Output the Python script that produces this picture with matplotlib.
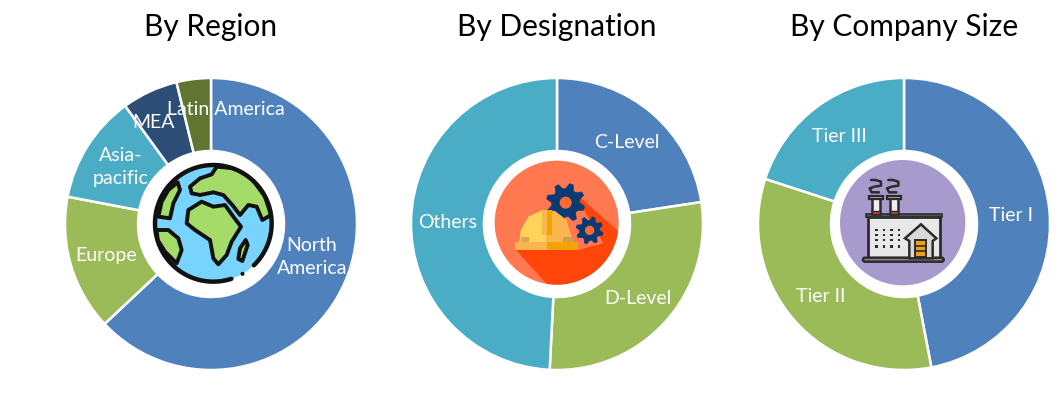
import numpy as np
import matplotlib
matplotlib.use("Agg")
import matplotlib.pyplot as plt
from matplotlib.patches import Circle, Polygon, Rectangle, FancyBboxPatch

plt.rcParams['font.family'] = ['Lato', 'DejaVu Sans']

W, H = 1061, 417

# ---- data ----
region_names = ["North America", "Europe", "Asia-pacific", "MEA", "Latin America"]
region_values = [63.0, 15.0, 12.0, 6.2, 3.8]
region_colors = ["#4F81BD", "#9BBB59", "#4BACC6", "#2C4D75", "#5F7530"]

designation_names = ["C-Level", "D-Level", "Others"]
designation_values = [22.6, 28.2, 49.2]
designation_colors = ["#4F81BD", "#9BBB59", "#4BACC6"]

size_names = ["Tier I", "Tier II", "Tier III"]
size_values = [47.0, 33.0, 20.0]
size_colors = ["#4F81BD", "#9BBB59", "#4BACC6"]

titles = ["By Region", "By Designation", "By Company Size"]

fig = plt.figure(figsize=(W / 100, H / 100), dpi=100, facecolor="white")


def donut(cx, cy, r, rin, values, colors):
    m = r + 2
    ax = fig.add_axes([(cx - m) / W, 1 - (cy + m) / H, 2 * m / W, 2 * m / H])
    ax.pie(values, colors=colors, startangle=90, counterclock=False, radius=r,
           wedgeprops=dict(width=r - rin, edgecolor="white", linewidth=1.8))
    ax.set_xlim(-m, m)
    ax.set_ylim(-m, m)
    ax.set_aspect("equal")
    ax.axis("off")


donut(211, 224, 146, 73, region_values, region_colors)
donut(557, 224, 146, 73, designation_values, designation_colors)
donut(904, 224, 146, 73, size_values, size_colors)

ov = fig.add_axes([0, 0, 1, 1], zorder=5)
ov.set_xlim(0, W)
ov.set_ylim(H, 0)
ov.axis("off")
ov.patch.set_alpha(0)


def Z(pts, ox):
    """Icon outline points, given in a 3x view of a 135 px box at (ox,155)."""
    return [(ox + x / 3, 155 + y / 3) for x, y in pts]


# ---- globe icon ----
ox = 145
KL = "#111111"
LAND = "#A5DC69"
SEA = "#79D4FD"
gc = (ox + 205 / 3, 155 + 205 / 3)
ov.add_patch(Circle(gc, 175 / 3, fc=SEA, ec="none", zorder=1))
clip = Circle(gc, 175 / 3, transform=ov.transData)
lands = [
    [(215, 35), (270, 40), (320, 70), (360, 125), (378, 180), (352, 195), (335, 155), (310, 150),
     (285, 180), (262, 150), (235, 120), (205, 112), (165, 120), (140, 115), (135, 95), (165, 70), (200, 58)],
    [(98, 82), (105, 105), (85, 145), (75, 190), (40, 185), (50, 140), (70, 105)],
    [(35, 225), (70, 225), (100, 250), (110, 285), (95, 325), (60, 290), (38, 255)],
    [(130, 165), (170, 140), (205, 155), (240, 150), (265, 185), (288, 215), (260, 260), (245, 300),
     (220, 328), (205, 310), (195, 255), (150, 225), (125, 205)],
    [(302, 255), (308, 270), (292, 318), (280, 312), (285, 280)],
]
for land in lands:
    p = Polygon(Z(land, ox), closed=True, fc=LAND, ec=KL, lw=2.8, joinstyle="round", zorder=2)
    ov.add_patch(p)
    p.set_clip_path(clip)
# the ring has a small gap and a dot at lower right
t = np.radians(np.linspace(72, 406, 300))
ov.plot(gc[0] + 175 / 3 * np.cos(t), gc[1] + 175 / 3 * np.sin(t), color=KL, lw=3.2, zorder=3,
        solid_capstyle="round")
ov.add_patch(Polygon([(gc[0] + 175 / 3 * np.cos(a) + dx, gc[1] + 175 / 3 * np.sin(a) + dy)
                      for a in np.radians([47, 71]) for dx, dy in [(0, 0)]] +
                     [(gc[0] + 160 / 3 * np.cos(a), gc[1] + 160 / 3 * np.sin(a)) for a in np.radians([71, 47])],
                     closed=True, fc=SEA, ec="none", zorder=2.5))
ov.add_patch(Circle((gc[0] + 175 / 3 * np.cos(np.radians(60)), gc[1] + 175 / 3 * np.sin(np.radians(60))),
                    2.0, fc=KL, ec="none", zorder=3))

# ---- helmet and gears icon ----
ox = 490
c2 = (ox + 200 / 3, 155 + 203 / 3)
ov.add_patch(Circle(c2, 186 / 3, fc="#FF7850", ec="none", zorder=1))
clip2 = Circle(c2, 186 / 3, transform=ov.transData)
sh = Polygon(Z([(78, 285), (265, 285), (340, 265), (285, 170), (240, 100), (420, 260), (420, 420), (200, 420)], ox),
             closed=True, fc="#FF450A", ec="none", zorder=2)
ov.add_patch(sh)
sh.set_clip_path(clip2)


def gear(cx, cy, ro, ri, hole, n, zorder):
    a = np.linspace(0, 2 * np.pi, n * 4, endpoint=False) + 0.2
    rad = np.tile([ro, ro, ri, ri], n)
    x = ox + (cx + rad * np.cos(a)) / 3
    y = 155 + (cy + rad * np.sin(a)) / 3
    ov.add_patch(Polygon(np.column_stack([x, y]), closed=True, fc="#0B3A75", ec="#0B3A75", lw=0.5, zorder=zorder))
    ov.add_patch(Circle((ox + cx / 3, 155 + cy / 3), hole / 3, fc="#FF6A33", ec="none", zorder=zorder + 0.1))


gear(227, 143, 58, 42, 18, 8, 3)
gear(299, 226, 41, 30, 14, 8, 3)
ov.add_patch(Polygon(Z([(88, 262), (92, 225), (115, 185), (150, 168), (170, 165), (170, 262)], ox),
                     closed=True, fc="#FFD25A", ec="none", zorder=4))
ov.add_patch(Polygon(Z([(170, 165), (195, 168), (230, 195), (250, 262), (170, 262)], ox),
                     closed=True, fc="#FAB54F", ec="none", zorder=4))
ov.add_patch(Polygon(Z([(155, 165), (187, 165), (187, 240), (155, 240)], ox), closed=True, fc="#F9B84C", ec="none", zorder=4.1))
ov.add_patch(Polygon(Z([(170, 165), (187, 165), (187, 240), (170, 240)], ox), closed=True, fc="#F4A400", ec="none", zorder=4.2))
ov.add_patch(Polygon(Z([(76, 262), (170, 262), (170, 285), (76, 285)], ox), closed=True, fc="#FAB54F", ec="none", zorder=4.3))
ov.add_patch(Polygon(Z([(170, 262), (263, 262), (263, 285), (170, 285)], ox), closed=True, fc="#F4A400", ec="none", zorder=4.3))
ov.add_patch(Polygon(Z([(92, 245), (118, 245), (118, 262), (92, 262)], ox), closed=True, fc="#DCA858", ec="none", zorder=4.4))
ov.add_patch(Polygon(Z([(220, 245), (248, 245), (248, 262), (220, 262)], ox), closed=True, fc="#CF9F5A", ec="none", zorder=4.4))

# ---- factory icon ----
ox = 835
DK = "#2B2B2B"
ov.add_patch(Circle((ox + 203 / 3, 155 + 203 / 3), 188 / 3, fc="#A79BCE", ec="none", zorder=1))
ov.add_patch(Polygon(Z([(100, 185), (316, 185), (316, 310), (100, 310)], ox), closed=True,
                     fc="#E8E8E8", ec=DK, lw=2, zorder=2))
ov.add_patch(Polygon(Z([(92, 178), (322, 178), (322, 186), (92, 186)], ox), closed=True, fc="#555555", ec=DK, lw=1.2, zorder=3))
ov.add_patch(FancyBboxPatch((ox + 84 / 3, 155 + 308 / 3), 242 / 3, 12 / 3, boxstyle="round,pad=0,rounding_size=2",
                            fc="#8A8A8A", ec=DK, lw=1.8, zorder=4))
for sx in (108, 160):
    ov.add_patch(Polygon(Z([(sx + 4, 130), (sx + 28, 130), (sx + 28, 178), (sx + 4, 178)], ox), closed=True, fc="#EDEDED", ec=DK, lw=1.8, zorder=3))
    ov.add_patch(Polygon(Z([(sx + 4, 168), (sx + 28, 168), (sx + 28, 178), (sx + 4, 178)], ox), closed=True, fc="#D63C3C", ec=DK, lw=1.0, zorder=3.1))
    ov.add_patch(Polygon(Z([(sx - 5, 122), (sx + 37, 122), (sx + 37, 132), (sx - 5, 132)], ox), closed=True, fc="#BDBDBD", ec=DK, lw=1.6, zorder=3.2))
    verts = Z([(sx + 24, 112), (sx + 2, 112), (sx - 4, 100), (sx + 10, 95), (sx + 30, 92), (sx + 30, 80), (sx + 14, 75), (sx, 75)], ox)
    ov.plot([v[0] for v in verts], [v[1] for v in verts], color=DK, lw=1.8, zorder=3, solid_capstyle="round")
for row_y in (225, 240, 255, 275):
    for col_x in (125, 147, 170, 192):
        ov.add_patch(Rectangle((ox + (col_x - 4) / 3, 155 + (row_y - 4) / 3), 2.8, 2.8, fc=DK, ec="none", zorder=3))
ov.add_patch(Polygon(Z([(210, 250), (258, 208), (304, 250), (293, 258), (293, 310), (223, 310), (223, 258)], ox), closed=True,
                     fc="#D8D8D8", ec=DK, lw=1.8, zorder=4))
ov.add_patch(Polygon(Z([(240, 256), (274, 256), (274, 306), (240, 306)], ox), closed=True, fc="#E9A21A", ec=DK, lw=1.4, zorder=5))
for yy in (272, 288):
    ov.plot([ox + 240 / 3, ox + 274 / 3], [155 + yy / 3] * 2, color=DK, lw=1.2, zorder=6)

# ---- text ----
label_positions = {
    "North America": (312, 257, "North\nAmerica"),
    "Europe": (106, 256, "Europe"),
    "Asia-pacific": (121, 167, "Asia-\npacific"),
    "MEA": (153, 122, "MEA"),
    "Latin America": (226, 109, "Latin America"),
    "C-Level": (627, 143, "C-Level"),
    "D-Level": (638, 298, "D-Level"),
    "Others": (448, 222, "Others"),
    "Tier I": (1011, 215, "Tier I"),
    "Tier II": (821, 296, "Tier II"),
    "Tier III": (839, 136, "Tier III"),
}
for name in region_names + designation_names + size_names:
    x, y, txt = label_positions[name]
    ov.text(x, y, txt, color="white", fontsize=14, ha="center", va="center",
            linespacing=1.4, zorder=10)

for x, t_ in zip((211, 557, 904), titles):
    ov.text(x, 27, t_, color="black", fontsize=21.5, ha="center", va="center", zorder=10)

fig.savefig("out.png", dpi=100)
